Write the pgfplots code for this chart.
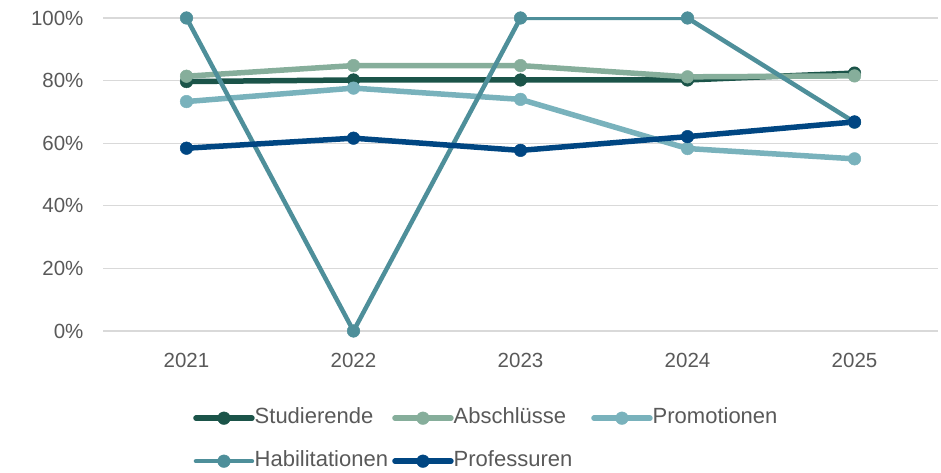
\documentclass[border=0pt]{standalone}
\usepackage{fontspec}
\setmainfont{Liberation Sans}
\usepackage{pgfplots}
\pgfplotsset{compat=1.18}

\definecolor{cStud}{HTML}{1B5449}
\definecolor{cAbs}{HTML}{86AE9B}
\definecolor{cProm}{HTML}{79B2BC}
\definecolor{cHab}{HTML}{4E8F9A}
\definecolor{cProf}{HTML}{004682}
\definecolor{txtgray}{HTML}{595959}
\definecolor{gridgray}{HTML}{D9D9D9}

\begin{document}
\begin{tikzpicture}
\useasboundingbox (0pt,0pt) rectangle (941pt,473pt);
\begin{axis}[
    at={(103pt,142pt)}, anchor=south west,
    scale only axis,
    width=835pt, height=313pt,
    xmin=-0.5, xmax=4.5,
    ymin=0, ymax=100,
    xtick={0,1,2,3,4},
    xticklabels={2021,2022,2023,2024,2025},
    ytick={0,20,40,60,80,100},
    yticklabels={0\%,20\%,40\%,60\%,80\%,100\%},
    axis line style={draw=none},
    major tick length=0pt,
    ymajorgrids,
    grid style={line width=1.2pt, gridgray},
    tick label style={font=\fontsize{20.5}{24}\selectfont, text=txtgray},
    xticklabel style={yshift=-19pt},
    yticklabel style={xshift=-16pt},
    every axis plot/.append style={line width=5.5pt, line join=round,
        mark=*, mark size=6.3pt,
        mark options={solid, line width=0.5pt}},
    legend columns=3,
    legend style={
        at={(axis description cs:0.1078,-0.2452)}, anchor=north west,
        draw=none, fill=none, inner sep=0pt, row sep=22.5pt,
        column sep=0pt,
        font=\fontsize{22}{26}\selectfont, text=txtgray,
        nodes={inner sep=0pt, text width=137.5pt, align=left,
               text height=16pt, text depth=4.5pt},
    },
    legend cell align=left,
    legend image code/.code={
        \draw[mark repeat=2, mark phase=2, line cap=round]
            plot coordinates {(0pt,0pt) (28pt,0pt) (56pt,0pt)};
    },
]
\addplot[cStud] coordinates {
    (0, 79.7) (1, 80.2) (2, 80.2) (3, 80.2) (4, 82.4)
};
\addlegendentry{Studierende}
\addplot[cAbs] coordinates {
    (0, 81.4) (1, 84.8) (2, 84.8) (3, 81.2) (4, 81.5)
};
\addlegendentry{Abschlüsse}
\addplot[cProm] coordinates {
    (0, 73.3) (1, 77.6) (2, 74.0) (3, 58.3) (4, 55.0)
};
\addlegendentry{Promotionen}
\addplot[cHab, line width=4.5pt] coordinates {
    (0, 100) (1, 0) (2, 100) (3, 100) (4, 66.7)
};
\addlegendentry{Habilitationen}
\addplot[cProf] coordinates {
    (0, 58.4) (1, 61.6) (2, 57.7) (3, 62.1) (4, 66.8)
};
\addlegendentry{Professuren}
\end{axis}
\end{tikzpicture}
\end{document}
